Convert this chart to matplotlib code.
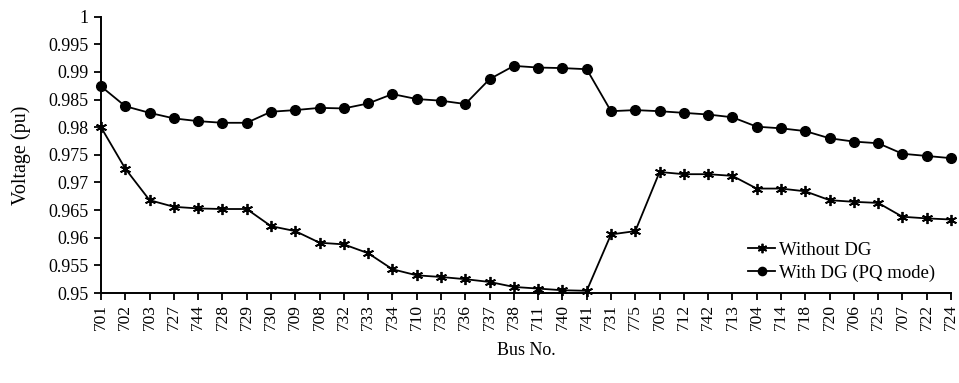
import matplotlib.pyplot as plt

plt.rcParams['font.family'] = ['Liberation Serif', 'DejaVu Serif']
plt.rcParams['font.size'] = 13

buses = ['701', '702', '703', '727', '744', '728', '729', '730', '709', '708',
         '732', '733', '734', '710', '735', '736', '737', '738', '711', '740',
         '741', '731', '775', '705', '712', '742', '713', '704', '714', '718',
         '720', '706', '725', '707', '722', '724']

without_dg = [0.9800, 0.9725, 0.9668, 0.9656, 0.9653, 0.9652, 0.9652, 0.9621,
              0.9612, 0.9591, 0.9588, 0.9572, 0.9543, 0.9532, 0.9529, 0.9525,
              0.9520, 0.9511, 0.9508, 0.9505, 0.9504, 0.9606, 0.9612, 0.9719,
              0.9715, 0.9715, 0.9712, 0.9689, 0.9689, 0.9684, 0.9668, 0.9665,
              0.9663, 0.9638, 0.9635, 0.9633]

with_dg = [0.9874, 0.9838, 0.9826, 0.9816, 0.9811, 0.9808, 0.9808, 0.9828,
           0.9831, 0.9835, 0.9834, 0.9843, 0.9860, 0.9851, 0.9848, 0.9842,
           0.9887, 0.9911, 0.9908, 0.9907, 0.9905, 0.9829, 0.9831, 0.9829,
           0.9826, 0.9823, 0.9818, 0.9801, 0.9798, 0.9793, 0.9780, 0.9774,
           0.9771, 0.9752, 0.9748, 0.9744]

yticks = [0.95, 0.955, 0.96, 0.965, 0.97, 0.975, 0.98, 0.985, 0.99, 0.995, 1.0]
ytick_labels = ['0.95', '0.955', '0.96', '0.965', '0.97', '0.975', '0.98',
                '0.985', '0.99', '0.995', '1']

fig = plt.figure(figsize=(9.59, 3.83), dpi=100)
ax = fig.add_axes([101 / 959, 1 - 293 / 383, (951 - 101) / 959, (293 - 16.7) / 383])

x = range(len(buses))
ax.plot(x, without_dg, color='black', lw=1.3, marker=(6, 2, 0), ms=8,
        mew=1.3, label='Without DG', clip_on=False, zorder=3)
ax.plot(x, with_dg, color='black', lw=1.3, marker='o', ms=7,
        label='With DG (PQ mode)', clip_on=False, zorder=3)

ax.set_xlim(0, len(buses) - 1)
ax.set_ylim(0.95, 1.0)
ax.set_xticks(list(x))
ax.set_xticklabels(buses, rotation=90, fontsize=12.5)
ax.set_yticks(yticks)
ax.set_yticklabels(ytick_labels)

for s in ['top', 'right']:
    ax.spines[s].set_visible(False)
for s in ['left', 'bottom']:
    ax.spines[s].set_linewidth(1.4)
ax.tick_params(direction='out', length=5, width=1.3)
ax.tick_params(axis='y', pad=4)
ax.tick_params(axis='x', pad=3)

ax.set_ylabel('Voltage (pu)', fontsize=14.5)
ax.yaxis.set_label_coords(-0.082, 0.5)
ax.set_xlabel('Bus No.')
ax.xaxis.set_label_coords(0.5, -0.177)

ax.legend(loc='lower right', bbox_to_anchor=(0.995, 0.0), frameon=False,
          fontsize=13.5, handlelength=1.4, handletextpad=0.25,
          labelspacing=0.3, borderaxespad=0.2, markerscale=0.85)

fig.savefig('out.png', dpi=100)
